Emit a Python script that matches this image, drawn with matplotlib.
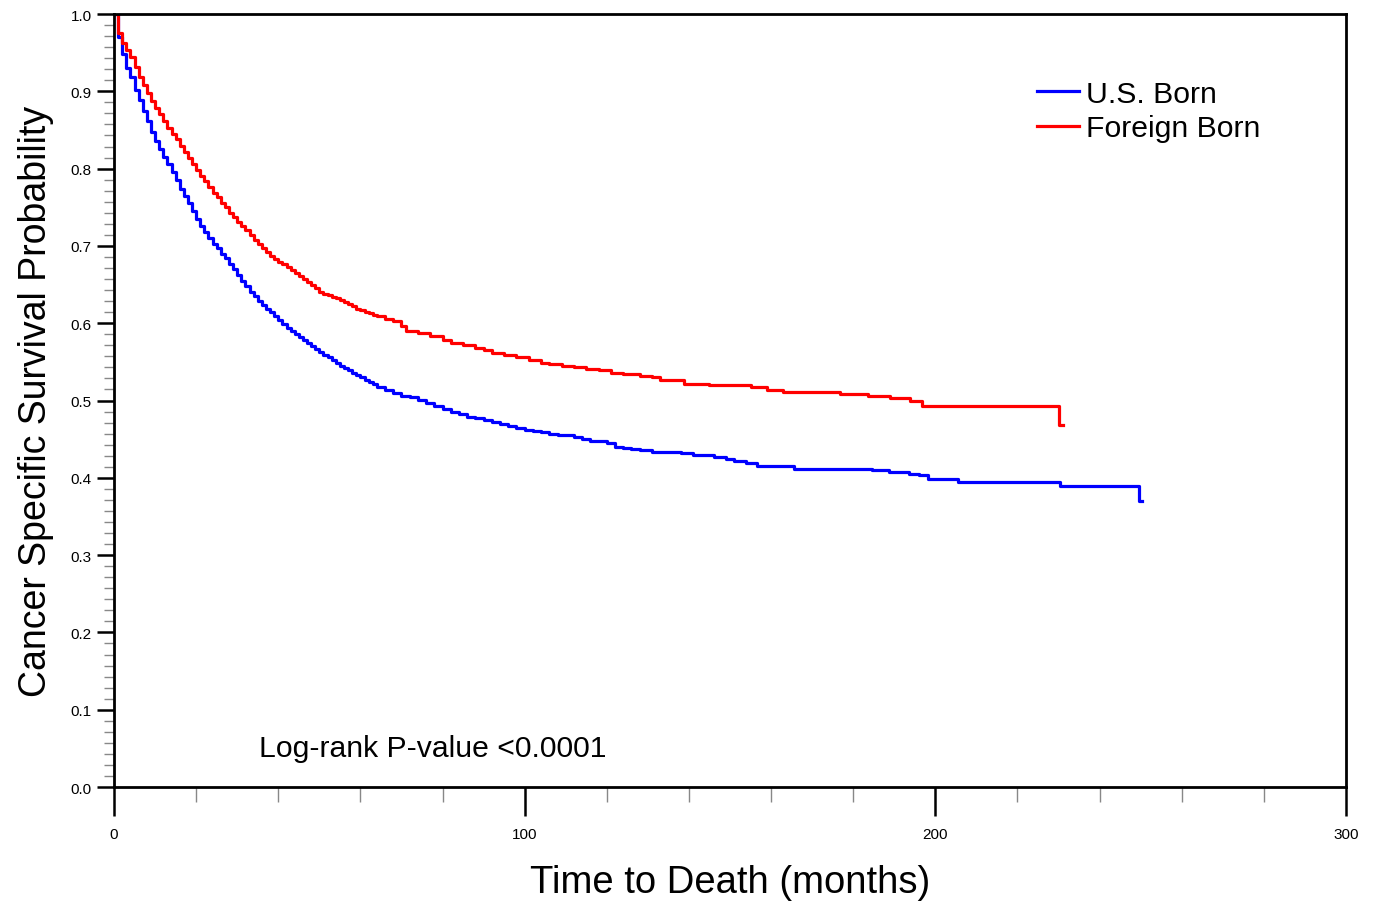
import matplotlib
matplotlib.use('Agg')
import matplotlib.pyplot as plt
from matplotlib.ticker import MultipleLocator, AutoMinorLocator

plt.rcParams['font.family'] = ['Liberation Sans', 'DejaVu Sans']

# Kaplan-Meier estimates (months, survival probability)
us_time = [0, 1, 2, 3, 4, 5, 6, 7, 8, 9, 10, 11, 12, 13, 14, 15, 16, 17, 18, 19,
           20, 21, 22, 23, 24, 25, 26, 27, 28, 29, 30, 31, 32, 33, 34, 35, 36, 37, 38, 39,
           40, 41, 42, 43, 44, 45, 46, 47, 48, 49, 50, 51, 52, 53, 54, 55, 56, 57, 58, 59,
           60, 61, 62, 63, 64, 66, 68, 70, 72, 74, 76, 78, 80, 82, 84, 86, 88, 90, 92, 94,
           96, 98, 100, 102, 104, 106, 108, 110, 112, 114, 116, 118, 120, 122, 124, 126, 128,
           131, 134, 138, 141, 143, 146, 149, 151, 154, 156.5, 165.5, 184.5, 188.6, 193.5,
           196, 198.3, 205.6, 230.4, 249.5, 250.3]
us_surv = [1.000, 0.970, 0.948, 0.930, 0.918, 0.902, 0.889, 0.875, 0.861, 0.848,
           0.836, 0.826, 0.815, 0.806, 0.795, 0.785, 0.774, 0.764, 0.755, 0.745,
           0.735, 0.726, 0.718, 0.710, 0.703, 0.697, 0.690, 0.684, 0.677, 0.670,
           0.662, 0.655, 0.648, 0.641, 0.635, 0.629, 0.624, 0.619, 0.614, 0.609,
           0.604, 0.599, 0.594, 0.590, 0.586, 0.582, 0.578, 0.574, 0.570, 0.566,
           0.563, 0.559, 0.556, 0.552, 0.549, 0.545, 0.542, 0.539, 0.536, 0.533,
           0.530, 0.527, 0.524, 0.521, 0.518, 0.514, 0.510, 0.506, 0.504, 0.501,
           0.497, 0.493, 0.489, 0.485, 0.482, 0.479, 0.477, 0.475, 0.472, 0.470,
           0.467, 0.464, 0.462, 0.460, 0.459, 0.457, 0.456, 0.455, 0.453, 0.450,
           0.448, 0.447, 0.445, 0.440, 0.438, 0.437, 0.436, 0.434, 0.433, 0.432,
           0.430, 0.429, 0.4265, 0.424, 0.422, 0.419, 0.415, 0.412, 0.410, 0.407,
           0.405, 0.403, 0.398, 0.394, 0.389, 0.370, 0.370]

fb_time = [0, 1, 2, 3, 4, 5, 6, 7, 8, 9, 10, 11, 12, 13, 14, 15, 16, 17, 18, 19,
           20, 21, 22, 23, 24, 25, 26, 27, 28, 29, 30, 31, 32, 33, 34, 35, 36, 37, 38, 39,
           40, 41, 42, 43, 44, 45, 46, 47, 48, 49, 50, 51, 52, 53, 54, 55, 56, 57, 58, 59,
           60, 61, 62, 63, 64, 66, 68, 70, 71, 74, 77, 80, 82, 85, 88, 90, 92, 95, 98,
           101, 104, 106, 109, 112, 115, 118, 121, 124, 128, 131, 133, 138.7, 145, 155,
           159, 163, 176.8, 183.7, 189, 193.9, 196.7, 230, 231]
fb_surv = [1.000, 0.976, 0.962, 0.953, 0.944, 0.932, 0.919, 0.908, 0.898, 0.888,
           0.878, 0.870, 0.861, 0.853, 0.845, 0.838, 0.829, 0.822, 0.814, 0.806,
           0.798, 0.791, 0.784, 0.776, 0.769, 0.763, 0.756, 0.750, 0.743, 0.737,
           0.731, 0.726, 0.720, 0.714, 0.708, 0.702, 0.697, 0.692, 0.687, 0.683,
           0.679, 0.676, 0.673, 0.669, 0.665, 0.661, 0.657, 0.653, 0.649, 0.645,
           0.641, 0.638, 0.636, 0.634, 0.632, 0.630, 0.627, 0.625, 0.622, 0.619,
           0.617, 0.615, 0.613, 0.611, 0.609, 0.606, 0.603, 0.597, 0.590, 0.587,
           0.583, 0.578, 0.575, 0.572, 0.568, 0.565, 0.561, 0.559, 0.556,
           0.553, 0.549, 0.547, 0.545, 0.543, 0.541, 0.539, 0.536, 0.534, 0.532,
           0.530, 0.527, 0.521, 0.520, 0.518,
           0.514, 0.511, 0.509, 0.506, 0.503, 0.499, 0.493, 0.468, 0.468]

labels = ['U.S. Born', 'Foreign Born']

fig = plt.figure(figsize=(13.74, 9.04), dpi=100)
ax = fig.add_axes([0.083, 0.1283, 0.8966, 0.8551])

ax.plot(us_time, us_surv, drawstyle='steps-post', color='#0000ff', lw=2.3, label=labels[0])
ax.plot(fb_time, fb_surv, drawstyle='steps-post', color='#ff0000', lw=2.3, label=labels[1])

ax.set_xlim(0, 300)
ax.set_ylim(0, 1.0)

ax.xaxis.set_major_locator(MultipleLocator(100))
ax.xaxis.set_minor_locator(MultipleLocator(20))
ax.yaxis.set_major_locator(MultipleLocator(0.1))
ax.yaxis.set_minor_locator(AutoMinorLocator(7))
ax.yaxis.set_major_formatter(matplotlib.ticker.FormatStrFormatter('%.1f'))

ax.tick_params(axis='x', which='major', direction='out', length=21, width=1.8, pad=8, labelsize=11, color='black')
ax.tick_params(axis='x', which='minor', direction='out', length=11, width=1.0, color='#888888')
ax.tick_params(axis='y', which='major', direction='out', length=12, width=1.8, pad=4, labelsize=11, color='black')
ax.tick_params(axis='y', which='minor', direction='out', length=7, width=1.0, color='#888888')

for s in ax.spines.values():
    s.set_linewidth(2.0)

ax.set_xlabel('Time to Death (months)', fontsize=27.5, labelpad=16)
ax.set_ylabel('Cancer Specific Survival Probability', fontsize=27, labelpad=12)

ax.text(0.1175, 0.05, 'Log-rank P-value <0.0001', transform=ax.transAxes, fontsize=21.7, va='center')

ax.legend(loc='upper left', bbox_to_anchor=(0.749, 0.915), frameon=False, fontsize=21.7,
          handlelength=1.4, handletextpad=0.25, labelspacing=0.22, borderpad=0, borderaxespad=0)

fig.savefig('out.png', dpi=100)
